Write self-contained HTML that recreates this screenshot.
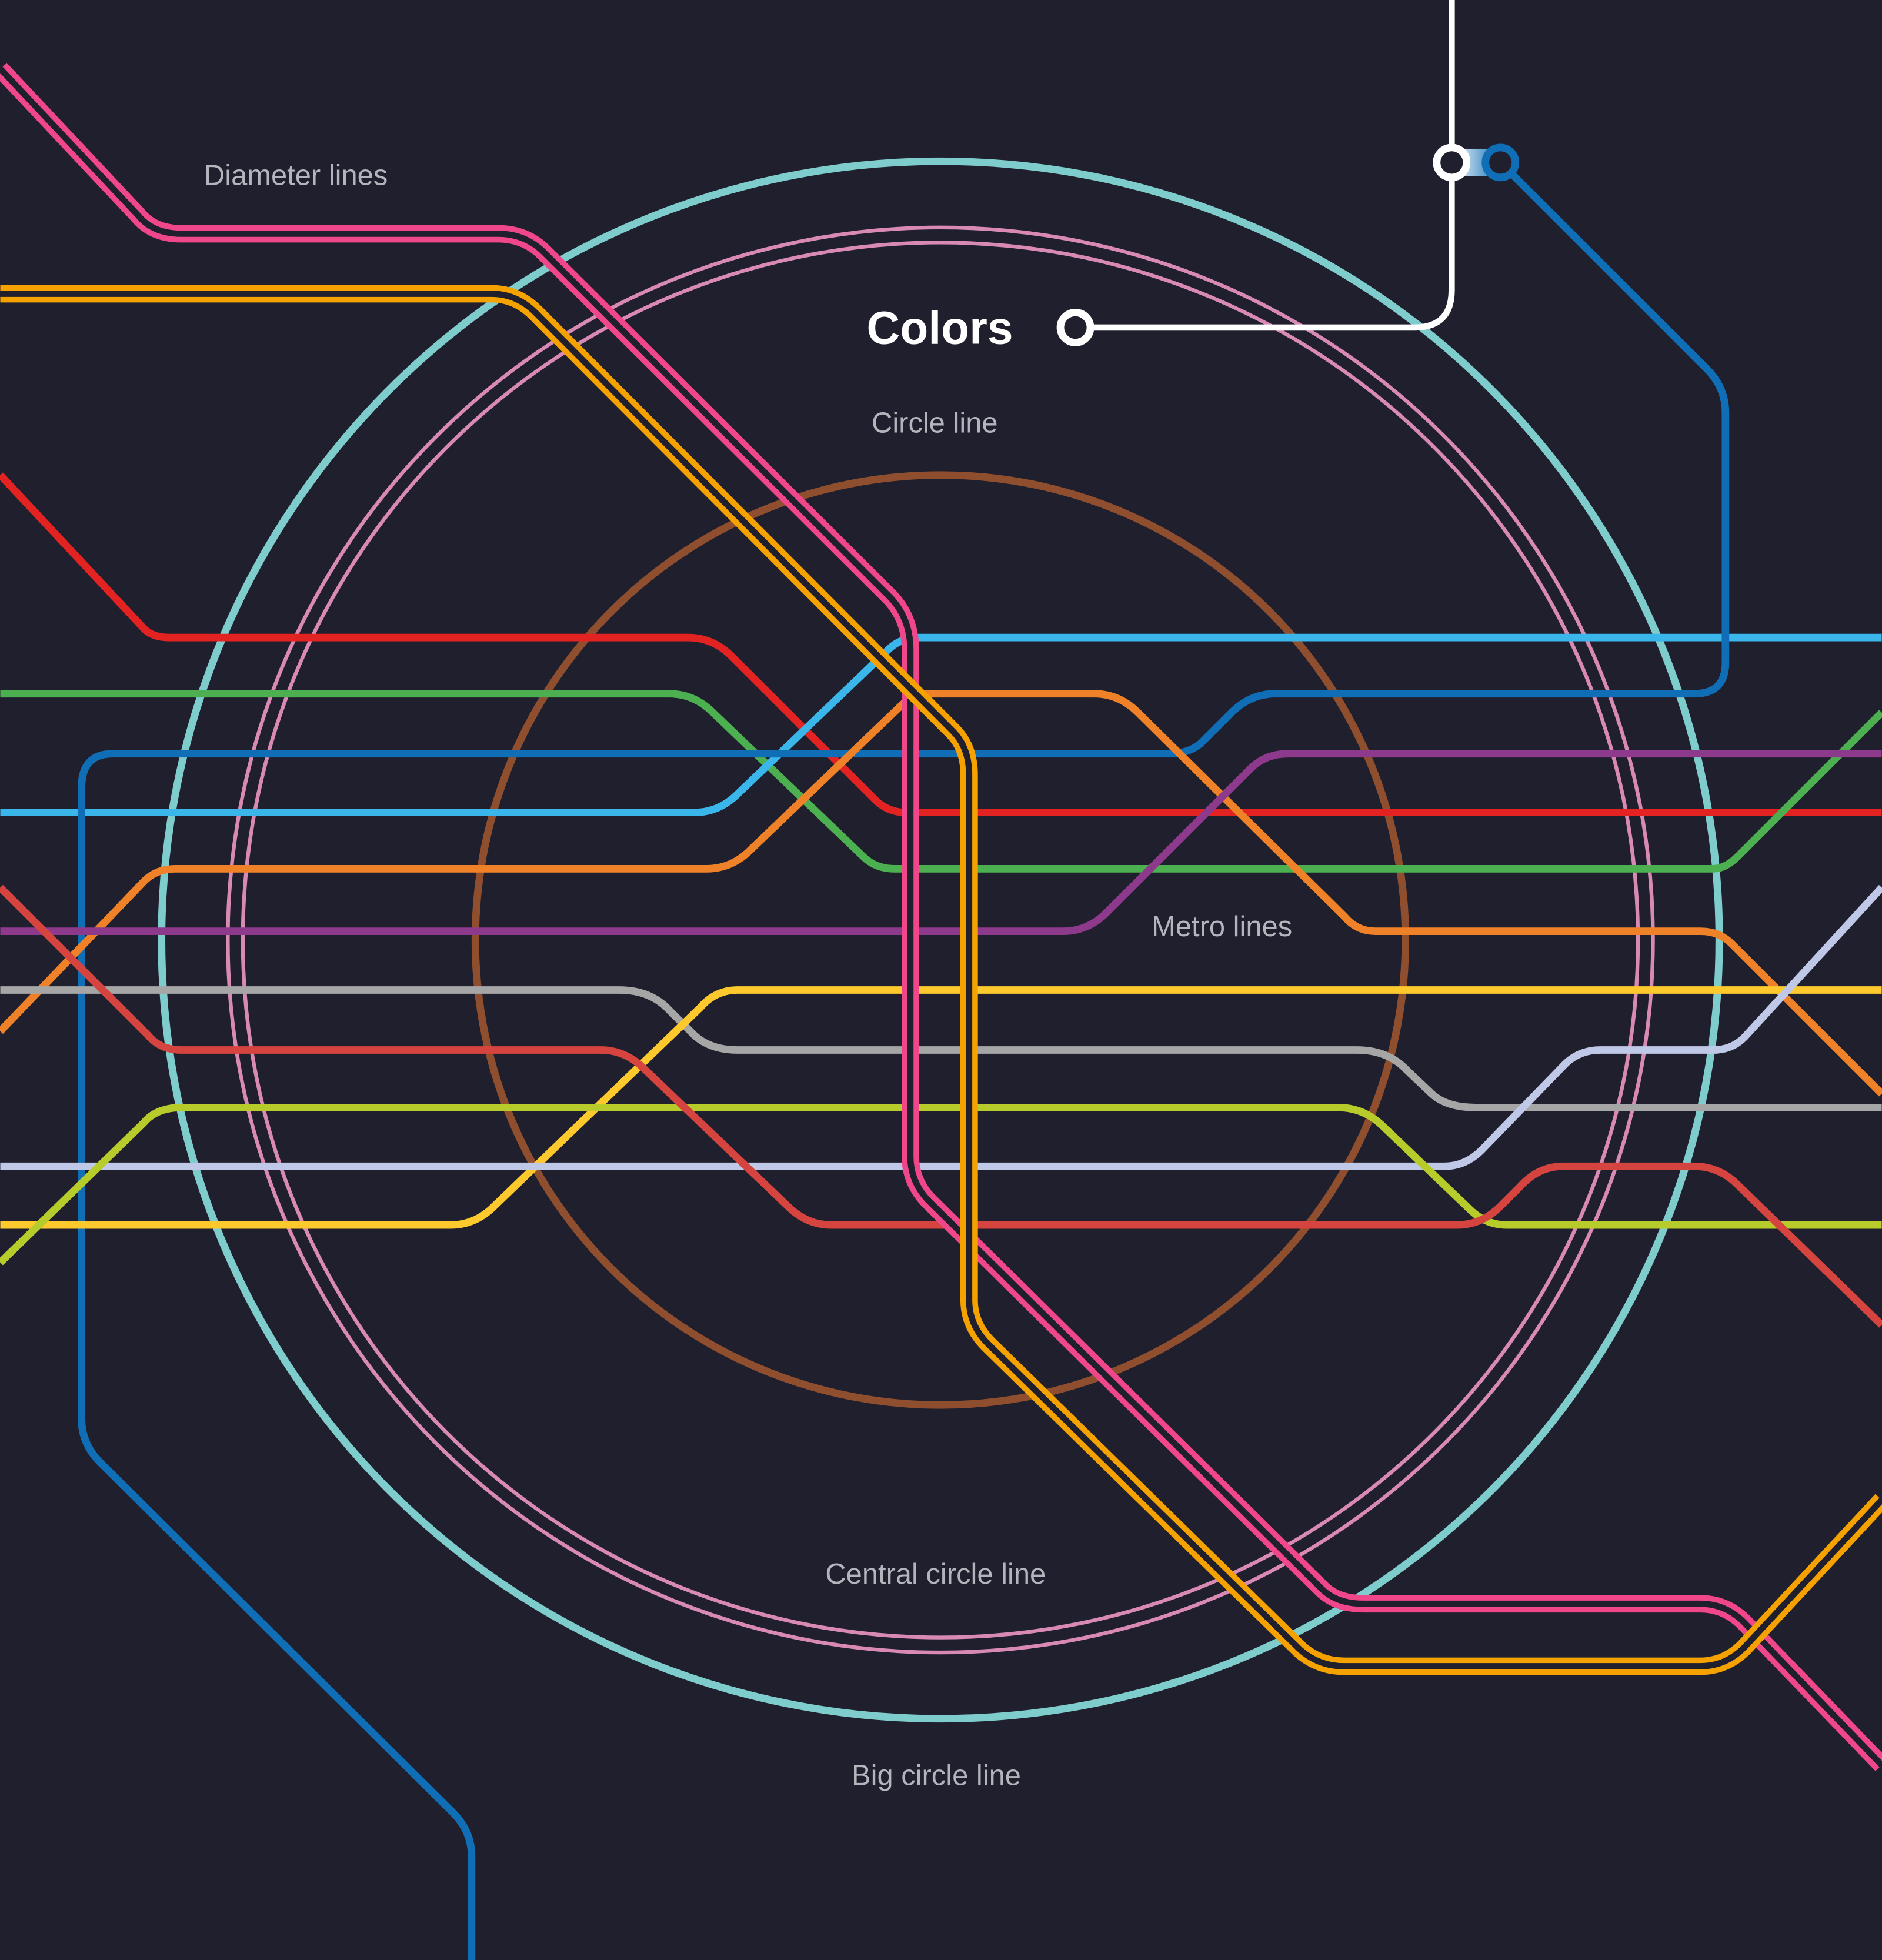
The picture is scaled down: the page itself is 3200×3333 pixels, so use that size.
<!DOCTYPE html>
<html><head><meta charset="utf-8"><style>
html,body{margin:0;padding:0;background:#201f2d;}
svg{display:block;}
text{font-family:"Liberation Sans",sans-serif;}
</style></head><body>
<svg width="3200" height="3333" viewBox="0 0 1505 1568" xmlns="http://www.w3.org/2000/svg">
<defs>
<linearGradient id="g" x1="0" x2="1" y1="0" y2="0"><stop offset="0" stop-color="#ffffff"/><stop offset="1" stop-color="#0f6eb5"/></linearGradient>
</defs>
<rect width="1505" height="1568" fill="#201f2d"/>
<g fill="none" stroke-linejoin="round" stroke-linecap="butt">
<circle cx="752" cy="752" r="623" stroke="#7fcccc" stroke-width="6"/>
<circle cx="752" cy="752" r="570" stroke="#d88ab5" stroke-width="3"/>
<circle cx="752" cy="752" r="558" stroke="#d88ab5" stroke-width="3"/>
<circle cx="752" cy="752" r="372" stroke="#8f4f2f" stroke-width="6"/>

<path d="M0,380 L115,503 Q122,510 135,510 L550,510 Q570,510 585,525 L700,640 Q710,650 725,650 L1505,650" stroke="#e32322" stroke-width="6"/>
<path d="M0,555 L535,555 Q555,555 570,570 L690,685 Q700,695 715,695 L1370,695 Q1380,695 1390,685 L1505,570" stroke="#4caf50" stroke-width="6"/>
<path d="M0,650 L555,650 Q575,650 590,635 L710,520 Q720,510 735,510 L1505,510" stroke="#3bb6ea" stroke-width="6"/>
<path d="M1200,130 L1365,295 Q1380,310 1380,330 L1380,530 Q1380,555 1355,555 L1020,555 Q1000,555 985,570 L960,595 Q950,603 935,603 L90,603 Q65,603 65,630 L65,1135 Q65,1155 80,1170 L362,1450 Q377,1465 377,1485 L377,1568" stroke="#0f6eb5" stroke-width="6"/>
<path d="M0,825 L115,705 Q125,695 140,695 L565,695 Q585,695 600,680 L720,565 Q730,555 745,555 L875,555 Q895,555 910,570 L1075,733 Q1085,745 1100,745 L1360,745 Q1375,745 1385,755 L1505,875" stroke="#ef8228" stroke-width="6"/>
<path d="M0,745 L850,745 Q870,745 885,730 L1000,615 Q1012,603 1030,603 L1505,603" stroke="#8e3a8c" stroke-width="6"/>
<path d="M0,792 L495,792 Q520,792 535,808 L555,828 Q568,840 590,840 L1085,840 Q1110,840 1125,856 L1145,875 Q1157,886 1180,886 L1505,886" stroke="#a6a6a6" stroke-width="6"/>
<path d="M0,980 L360,980 Q380,980 395,965 L560,806 Q572,792 590,792 L1505,792" stroke="#fdc92c" stroke-width="6"/>
<path d="M0,933 L1155,933 Q1172,933 1185,920 L1250,853 Q1262,840 1280,840 L1370,840 Q1385,840 1395,830 L1505,710" stroke="#c0c8e8" stroke-width="6"/>
<path d="M0,1010 L115,898 Q125,886 145,886 L1070,886 Q1090,886 1105,900 L1175,967 Q1188,980 1205,980 L1505,980" stroke="#b7cc2b" stroke-width="6"/>
<path d="M0,710 L118,828 Q128,840 145,840 L480,840 Q500,840 515,855 L630,965 Q645,980 665,980 L1165,980 Q1185,980 1200,965 L1215,950 Q1230,933 1250,933 L1355,933 Q1375,933 1390,948 L1505,1060" stroke="#d6443f" stroke-width="6"/>

<path d="M0,55 L110,172 Q122,187 145,187 L398,187 Q420,187 435,202 L712,478 Q728,495 728,520 L728,925 Q728,945 742,960 L1058,1272 Q1070,1283 1090,1283 L1360,1283 Q1380,1283 1395,1298 L1505,1412" stroke="#f0478a" stroke-width="14"/>
<path d="M0,55 L110,172 Q122,187 145,187 L398,187 Q420,187 435,202 L712,478 Q728,495 728,520 L728,925 Q728,945 742,960 L1058,1272 Q1070,1283 1090,1283 L1360,1283 Q1380,1283 1395,1298 L1505,1412" stroke="#201f2d" stroke-width="5"/>
<path d="M0,235 L393,235 Q413,235 428,250 L762,585 Q775,598 775,620 L775,1040 Q775,1060 790,1075 L1040,1320 Q1055,1333 1075,1333 L1360,1333 Q1380,1333 1395,1318 L1505,1200" stroke="#f5a200" stroke-width="14"/>
<path d="M0,235 L393,235 Q413,235 428,250 L762,585 Q775,598 775,620 L775,1040 Q775,1060 790,1075 L1040,1320 Q1055,1333 1075,1333 L1360,1333 Q1380,1333 1395,1318 L1505,1200" stroke="#201f2d" stroke-width="5"/>

<path d="M1161,0 L1161,232 Q1161,262 1131,262 L860,262" stroke="#ffffff" stroke-width="5"/>
<rect x="1161" y="119" width="39" height="22" fill="url(#g)" stroke="none"/>
<circle cx="1161" cy="130" r="12" fill="#201f2d" stroke="#ffffff" stroke-width="6"/>
<circle cx="1200" cy="130" r="12" fill="#201f2d" stroke="#0f6eb5" stroke-width="6"/>
<circle cx="860" cy="262" r="12" fill="#201f2d" stroke="#ffffff" stroke-width="6"/>
</g>

<g fill="#b4b4bc" font-size="23">
<text x="163" y="148">Diameter lines</text>
<text x="697" y="346">Circle line</text>
<text x="921" y="749">Metro lines</text>
<text x="660" y="1267">Central circle line</text>
<text x="681" y="1428">Big circle line</text>
</g>
<text x="693" y="275" fill="#ffffff" font-size="37" font-weight="bold">Colors</text>
</svg>
</body></html>
